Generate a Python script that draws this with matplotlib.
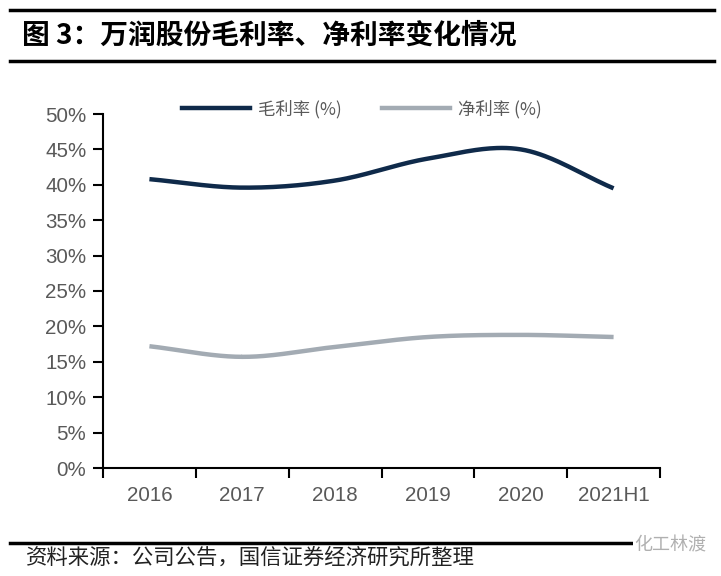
import numpy as np
import matplotlib
matplotlib.use("Agg")
import matplotlib.pyplot as plt
from matplotlib.lines import Line2D
from matplotlib.ticker import FixedLocator, PercentFormatter

plt.rcParams['font.family'] = ['Liberation Sans', 'Noto Sans CJK SC', 'DejaVu Sans']

categories = ["2016", "2017", "2018", "2019", "2020", "2021H1"]
gross_margin = [40.8, 39.6, 40.6, 43.7, 45.0, 39.5]
net_margin = [17.2, 15.7, 17.1, 18.5, 18.8, 18.5]
yticks = [0, 5, 10, 15, 20, 25, 30, 35, 40, 45, 50]

title = "图 3：万润股份毛利率、净利率变化情况"
source = "资料来源：公司公告，国信证券经济研究所整理"
legend_labels = ["毛利率 (%)", "净利率 (%)"]
watermark = "化工林渡"

navy = "#0f2a4a"
grey = "#a3abb3"
tick_col = "#595959"


def smooth(xs, ys, n=40):
    xs = np.asarray(xs, float)
    ys = np.asarray(ys, float)
    px = np.concatenate([[2 * xs[0] - xs[1]], xs, [2 * xs[-1] - xs[-2]]])
    py = np.concatenate([[2 * ys[0] - ys[1]], ys, [2 * ys[-1] - ys[-2]]])
    outx, outy = [], []
    t = np.linspace(0, 1, n)
    for i in range(1, len(px) - 2):
        def cr(a):
            a0, a1, a2, a3 = a[i - 1], a[i], a[i + 1], a[i + 2]
            return 0.5 * ((2 * a1) + (-a0 + a2) * t + (2 * a0 - 5 * a1 + 4 * a2 - a3) * t ** 2
                          + (-a0 + 3 * a1 - 3 * a2 + a3) * t ** 3)
        outx.append(cr(px))
        outy.append(cr(py))
    return np.concatenate(outx), np.concatenate(outy)


fig = plt.figure(figsize=(7.21, 5.76), dpi=100)
ax = fig.add_axes([103 / 721, 1 - 468 / 576, 557 / 721, 354 / 576])

x = np.arange(len(categories))
sx, sy = smooth(x, gross_margin)
ax.plot(sx, sy, color=navy, lw=3.2, solid_capstyle='butt')
sx, sy = smooth(x, net_margin)
ax.plot(sx, sy, color=grey, lw=3.2, solid_capstyle='butt')

ax.set_xlim(-0.5, len(categories) - 0.5)
ax.set_ylim(0, 50)
ax.yaxis.set_major_locator(FixedLocator(yticks))
ax.yaxis.set_major_formatter(PercentFormatter(decimals=0))
ax.set_xticks(x)
ax.set_xticklabels(categories)
ax.xaxis.set_minor_locator(FixedLocator(np.arange(-0.5, len(categories), 1.0)))
ax.tick_params(axis='x', which='major', length=0, pad=13, labelsize=14.8, labelcolor=tick_col)
ax.tick_params(axis='x', which='minor', length=7, width=1.5, direction='out', color='black')
ax.tick_params(axis='y', length=7, width=1.5, direction='out', labelsize=14.8,
               labelcolor=tick_col, pad=5)
for s in ['top', 'right']:
    ax.spines[s].set_visible(False)
for s in ['left', 'bottom']:
    ax.spines[s].set_linewidth(1.5)
    ax.spines[s].set_color('black')

handles = [Line2D([], [], color=navy, lw=3.2), Line2D([], [], color=grey, lw=3.2)]
leg = fig.legend(handles, legend_labels, loc='center', bbox_to_anchor=(362 / 721, 1 - 109 / 576),
                 ncol=2, frameon=False, handlelength=3.9, columnspacing=2.3, handletextpad=0.5,
                 borderpad=0, prop={'family': ['Noto Sans CJK SC'], 'size': 12.5})
for t in leg.get_texts():
    t.set_color(tick_col)

# header / footer
fig.add_artist(Line2D([10 / 721, 714 / 721], [1 - 10 / 576] * 2, color='black', lw=2.5))
fig.add_artist(Line2D([10 / 721, 714 / 721], [1 - 61 / 576] * 2, color='black', lw=2.5))
fig.text(22 / 721, 1 - 36 / 576, title, fontsize=20, fontweight='bold', va='center',
         ha='left', family=['Noto Sans CJK SC'])
fig.add_artist(Line2D([10 / 721, 690 / 721], [1 - 543 / 576] * 2, color='black', lw=2.5))
fig.text(26 / 721, 1 - 558 / 576, source, fontsize=15.4, va='center', ha='left',
         family=['Noto Sans CJK SC'], color='#222222')
fig.text(706 / 721, 1 - 545 / 576, watermark, fontsize=13, va='center', ha='right',
         family=['Noto Sans CJK SC'], color='#b0b0b0',
         bbox=dict(facecolor='white', edgecolor='none', pad=1))

fig.savefig("out.png", dpi=100)
